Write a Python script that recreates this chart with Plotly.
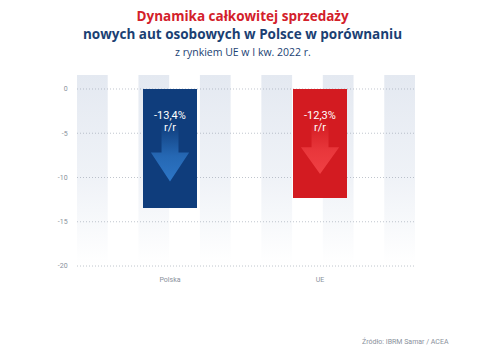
import plotly.graph_objects as go

# --- data ---
categories = ["Polska", "UE"]
values = [-13.4, -12.3]
bar_colors = ["#0f3d7c", "#d31b21"]
arrow_colors = ["45,118,198", "240,64,68"]
y_ticks = [0, -5, -10, -15, -20]
title_lines = [
    "Dynamika całkowitej sprzedaży",
    "nowych aut osobowych w Polsce w porównaniu",
    "z rynkiem UE w I kw. 2022 r.",
]
source_text = "Źródło: IBRM Samar / ACEA"

# --- geometry / style ---
W, H = 480, 350
M_L, M_R, M_T, M_B = 77, 65, 75, 80
Y_RANGE = [-20.45, 1.58]
X_RANGE = [-0.62, 1.633]
N_STRIPES = 6
STRIPE_RANGE = [0, N_STRIPES - 0.5]
BAR_W = 0.36
SHAFT_W, HEAD_W = 0.113, 0.255
SHAFT_TOP, HEAD_TOP, TIP = 0.30, 0.535, 0.78
FONT = "Roboto"
TITLE_FONT = "Open Sans"
NAVY = "#1b3f73"
RED = "#d3202a"
GREY = "#8a919c"

fig = go.Figure()

# decorative background stripes fading downward (subplot x/y)
for i in range(N_STRIPES):
    x0, x1 = i, i + 0.5
    fig.add_trace(go.Scatter(
        x=[x0, x1, x1, x0, x0],
        y=[Y_RANGE[1], Y_RANGE[1], Y_RANGE[0], Y_RANGE[0], Y_RANGE[1]],
        mode="lines", line=dict(width=0), fill="toself",
        fillgradient=dict(
            type="vertical", start=-19.8, stop=Y_RANGE[1],
            colorscale=[[0, "rgba(229,234,242,0)"],
                        [0.45, "rgba(229,234,242,0.6)"],
                        [1, "rgba(228,233,241,1)"]],
        ),
        hoverinfo="skip", showlegend=False, xaxis="x", yaxis="y",
    ))

# fine dotted grid lines drawn over the stripes
for t in y_ticks:
    fig.add_trace(go.Scatter(
        x=STRIPE_RANGE, y=[t, t], mode="lines",
        line=dict(color="rgba(150,158,172,0.6)", width=1, dash="1px,2px"),
        hoverinfo="skip", showlegend=False, xaxis="x", yaxis="y",
    ))

# bars (overlay subplot x2/y2)
fig.add_trace(go.Bar(
    x=list(range(len(categories))), y=values, width=BAR_W,
    marker=dict(color=bar_colors, line=dict(width=0)),
    hoverinfo="skip", showlegend=False, xaxis="x2", yaxis="y2",
))

# down arrows inside each bar, fading towards the top
for i, v in enumerate(values):
    ys, yh, yt = v * SHAFT_TOP, v * HEAD_TOP, v * TIP
    xs = [i - SHAFT_W / 2, i + SHAFT_W / 2, i + SHAFT_W / 2, i + HEAD_W / 2,
          i, i - HEAD_W / 2, i - SHAFT_W / 2, i - SHAFT_W / 2]
    yy = [ys, ys, yh, yh, yt, yh, yh, ys]
    c = arrow_colors[i]
    fig.add_trace(go.Scatter(
        x=xs, y=yy, mode="lines", line=dict(width=0), fill="toself",
        fillgradient=dict(
            type="vertical", start=yt, stop=ys,
            colorscale=[[0, f"rgba({c},1)"], [0.45, f"rgba({c},0.75)"],
                        [1, f"rgba({c},0)"]],
        ),
        hoverinfo="skip", showlegend=False, xaxis="x2", yaxis="y2",
    ))
    label = f"{v:.1f}".replace(".", ",") + "%"
    for txt, shift in ((label, -27), ("r/r", -38.5)):
        fig.add_annotation(
            x=i, y=0, xref="x2", yref="y2", text=txt, showarrow=False,
            yanchor="middle", yshift=shift,
            font=dict(family=FONT, size=11, color="white"),
        )

# titles and source
def px_to_paper_y(p):
    return (H - M_B - p) / (H - M_T - M_B)

def px_to_paper_x(p):
    return (p - M_L) / (W - M_L - M_R)

# two bold heading lines in one block, then the lighter subtitle
heading = (f"<b><span style='color:{RED}'>{title_lines[0]}</span><br>"
           f"{title_lines[1]}</b>")
fig.add_annotation(
    x=px_to_paper_x(242), y=px_to_paper_y(25), xref="paper", yref="paper",
    text=heading, showarrow=False, xanchor="center", yanchor="middle",
    align="center", font=dict(family=TITLE_FONT, size=13.5, color=NAVY),
)
fig.add_annotation(
    x=px_to_paper_x(243), y=px_to_paper_y(51.7), xref="paper", yref="paper",
    text=title_lines[2], showarrow=False, xanchor="center", yanchor="middle",
    font=dict(family=TITLE_FONT, size=10.5, color=NAVY),
)
fig.add_annotation(
    x=px_to_paper_x(451), y=px_to_paper_y(341), xref="paper", yref="paper",
    text=source_text, showarrow=False, xanchor="right", yanchor="middle",
    font=dict(family=FONT, size=7, color=GREY),
)

fig.update_layout(
    width=W, height=H,
    margin=dict(l=M_L, r=M_R, t=M_T, b=M_B, pad=0),
    paper_bgcolor="white", plot_bgcolor="white",
    font=dict(family=FONT),
    bargap=0,
    xaxis=dict(range=STRIPE_RANGE, visible=False, fixedrange=True),
    yaxis=dict(
        range=Y_RANGE, tickvals=y_ticks, ticktext=[str(t) for t in y_ticks],
        showgrid=False, zeroline=False, showline=False,
        ticks="outside", ticklen=7, tickcolor="rgba(0,0,0,0)",
        tickfont=dict(family=FONT, size=7, color=GREY),
    ),
    xaxis2=dict(
        range=X_RANGE, overlaying="x", anchor="y2",
        tickvals=list(range(len(categories))), ticktext=categories,
        showgrid=False, zeroline=False, showline=False,
        ticks="outside", ticklen=3, tickcolor="rgba(0,0,0,0)",
        tickfont=dict(family=FONT, size=7, color=GREY),
    ),
    yaxis2=dict(range=Y_RANGE, overlaying="y", visible=False),
)

fig.write_html("out.html")
